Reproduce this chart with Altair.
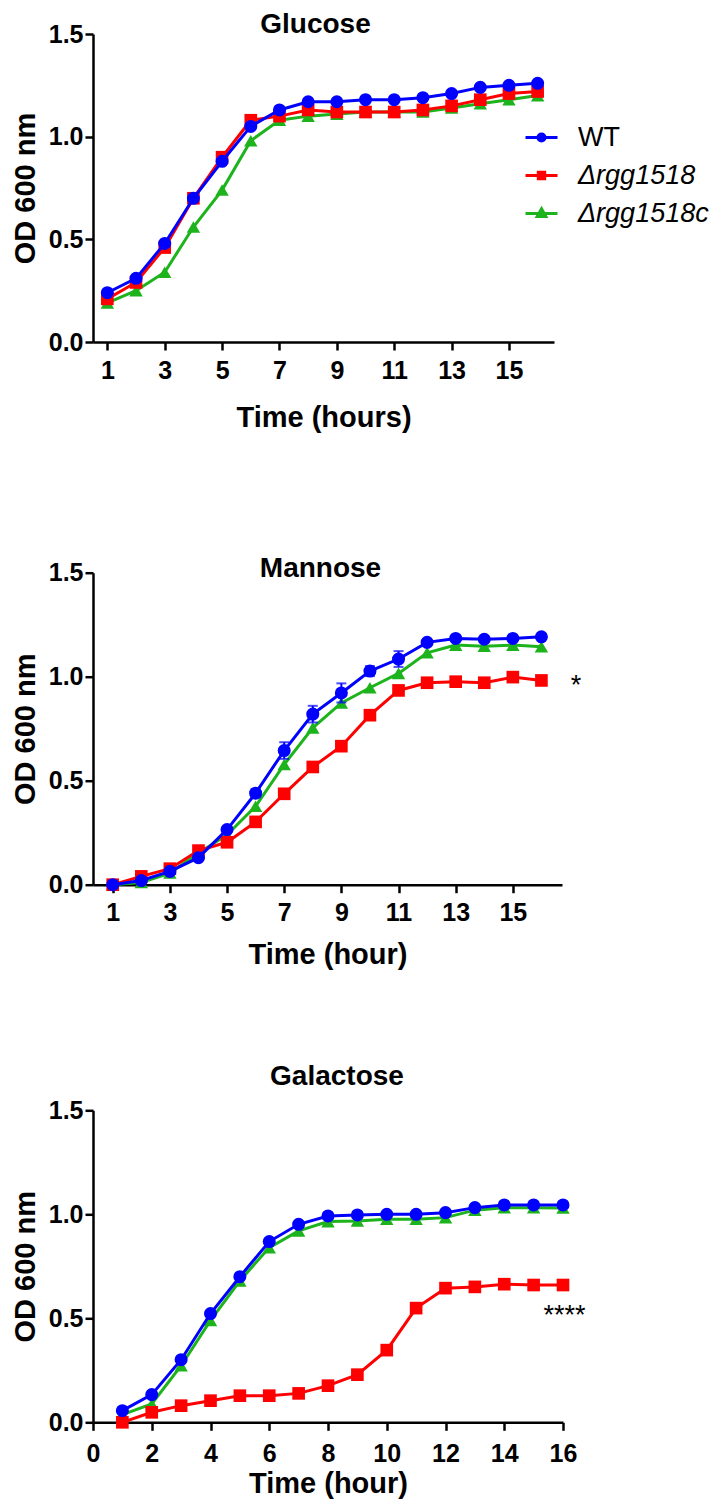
import altair as alt
import pandas as pd

# ---------------- data ----------------
hours = list(range(1, 17))
strains = ["WT", "Δrgg1518", "Δrgg1518c"]
colors = ["#0000FF", "#FF0000", "#1DB31D"]
shapes = ["circle", "square", "triangle-up"]

glucose_wt = [0.24, 0.31, 0.48, 0.70, 0.88, 1.05, 1.13, 1.17, 1.17, 1.18, 1.18, 1.19, 1.21, 1.24, 1.25, 1.26]
glucose_mut = [0.21, 0.29, 0.46, 0.70, 0.90, 1.08, 1.10, 1.13, 1.12, 1.12, 1.12, 1.13, 1.15, 1.18, 1.21, 1.22]
glucose_comp = [0.19, 0.25, 0.34, 0.56, 0.74, 0.98, 1.08, 1.10, 1.11, 1.12, 1.12, 1.12, 1.14, 1.16, 1.18, 1.20]

mannose_wt = [0.00, 0.02, 0.064, 0.13, 0.265, 0.44, 0.645, 0.82, 0.922, 1.027, 1.085, 1.165, 1.184, 1.18, 1.184, 1.192]
mannose_mut = [0.00, 0.04, 0.077, 0.164, 0.204, 0.302, 0.437, 0.566, 0.666, 0.815, 0.934, 0.971, 0.976, 0.971, 0.998, 0.982]
mannose_comp = [0.00, 0.011, 0.056, 0.152, 0.24, 0.377, 0.578, 0.754, 0.874, 0.947, 1.016, 1.115, 1.152, 1.147, 1.152, 1.144]
mannose_wt_err = [0, 0, 0, 0, 0.01, 0.02, 0.04, 0.04, 0.046, 0.024, 0.038, 0.01, 0.01, 0, 0, 0]

galactose_wt = [0.056, 0.133, 0.301, 0.523, 0.70, 0.869, 0.952, 0.992, 0.997, 1.00, 1.00, 1.008, 1.032, 1.045, 1.045, 1.045]
galactose_mut = [0.00, 0.048, 0.08, 0.104, 0.128, 0.128, 0.139, 0.176, 0.229, 0.347, 0.549, 0.645, 0.651, 0.664, 0.66, 0.66]
galactose_comp = [0.037, 0.088, 0.272, 0.49, 0.68, 0.84, 0.92, 0.965, 0.968, 0.976, 0.976, 0.984, 1.02, 1.032, 1.032, 1.03]

mannose_sig = {"t": [17.21], "od": [0.98], "label": ["*"]}
galactose_sig = {"t": [16.05], "od": [0.545], "label": ["****"]}

FONT = "Liberation Sans"


def panel_df(wt, mut, comp):
    rows = []
    for s, vals in zip(strains, [wt, mut, comp]):
        for t, v in zip(hours, vals):
            rows.append({"t": t, "od": v, "strain": s})
    return pd.DataFrame(rows)


def series_layers(df, xenc, yenc):
    layers = []
    sizes = {"circle": 170, "square": 160, "triangle-up": 180}
    for s, c, sh in reversed(list(zip(strains, colors, shapes))):
        base = alt.Chart(df).transform_filter(alt.datum.strain == s)
        layers.append(base.mark_line(color=c, strokeWidth=3).encode(x=xenc, y=yenc))
        layers.append(
            base.mark_point(filled=True, shape=sh, size=sizes[sh], color=c, opacity=1).encode(x=xenc, y=yenc)
        )
    return layers


def y_enc(title_pad=8):
    return alt.Y(
        "od:Q",
        scale=alt.Scale(domain=[0, 1.5], nice=False, zero=False),
        axis=alt.Axis(values=[0, 0.5, 1, 1.5], format=".1f", title="OD 600 nm",
                      titlePadding=title_pad, labelPadding=2),
    )


def x_enc(domain, values, title, label_pad, title_pad):
    return alt.X(
        "t:Q",
        scale=alt.Scale(domain=domain, nice=False, zero=False),
        axis=alt.Axis(values=values, format="d", title=title, labelPadding=label_pad,
                      titlePadding=title_pad, labelFlush=False),
    )


# ---------------- Glucose ----------------
df_glu = panel_df(glucose_wt, glucose_mut, glucose_comp)
x1 = x_enc([0.5, 16.57], list(range(1, 16, 2)), "Time (hours)", 8, 20)
y1 = y_enc()

legend_paths = [
    "M-1,0L1,0M0.22,0A0.22,0.22,0,1,1,-0.22,0A0.22,0.22,0,1,1,0.22,0Z",
    "M-1,0L1,0M-0.2,-0.2L0.2,-0.2L0.2,0.2L-0.2,0.2Z",
    "M-1,0L1,0M0,-0.3L0.27,0.18L-0.27,0.18Z",
]
leg = alt.Legend(
    orient="none", legendX=431, legendY=86, title=None, padding=0,
    symbolSize=1024, symbolStrokeWidth=3, labelFont=FONT, labelFontSize=27,
    labelColor="black", labelOffset=19, rowPadding=7,
    labelFontStyle=alt.ExprRef(expr="datum.label == 'WT' ? 'normal' : 'italic'"),
)
legend_layer = (
    alt.Chart(df_glu)
    .transform_filter("datum.t < 0")
    .mark_point(filled=True, opacity=1)
    .encode(
        x=x1, y=y1,
        fill=alt.Fill("strain:N", scale=alt.Scale(domain=strains, range=colors), legend=leg),
        stroke=alt.Stroke("strain:N", scale=alt.Scale(domain=strains, range=colors), legend=leg),
        shape=alt.Shape("strain:N", scale=alt.Scale(domain=strains, range=legend_paths), legend=leg),
    )
)

p1 = alt.layer(*series_layers(df_glu, x1, y1), legend_layer).properties(
    width=461, height=308, title=alt.Title("Glucose", offset=-17, dx=-8)
)

# ---------------- Mannose ----------------
df_man = panel_df(mannose_wt, mannose_mut, mannose_comp)
x2 = x_enc([0.31, 16.72], list(range(1, 16, 2)), "Time (hour)", 8, 15)
y2 = y_enc()
err_df = pd.DataFrame({
    "t": hours,
    "lo": [v - e for v, e in zip(mannose_wt, mannose_wt_err)],
    "hi": [v + e for v, e in zip(mannose_wt, mannose_wt_err)],
})
err_x = alt.X("t:Q", scale=alt.Scale(domain=[0.31, 16.72], nice=False, zero=False))
err_rule = alt.Chart(err_df).mark_rule(color=colors[0], strokeWidth=2).encode(
    x=err_x, y=alt.Y("lo:Q"), y2="hi:Q"
)
err_cap_lo = alt.Chart(err_df).mark_tick(color=colors[0], orient="horizontal", size=10, thickness=2).encode(
    x=err_x, y=alt.Y("lo:Q")
)
err_cap_hi = alt.Chart(err_df).mark_tick(color=colors[0], orient="horizontal", size=10, thickness=2).encode(
    x=err_x, y=alt.Y("hi:Q")
)
man_layers = series_layers(df_man, x2, y2)
sig_man = alt.Chart(pd.DataFrame(mannose_sig)).mark_text(
    font=FONT, fontSize=27, color="black", baseline="middle", dy=5
).encode(x=err_x, y=alt.Y("od:Q"), text="label:N")
p2 = alt.layer(*man_layers[:-2], err_rule, err_cap_lo, err_cap_hi, *man_layers[-2:], sig_man).properties(
    width=469, height=312, title=alt.Title("Mannose", offset=-22, dx=-7)
)

# ---------------- Galactose ----------------
df_gal = panel_df(galactose_wt, galactose_mut, galactose_comp)
x3 = x_enc([0, 16], list(range(0, 17, 2)), "Time (hour)", 11, 3)
y3 = y_enc()
sig_gal = alt.Chart(pd.DataFrame(galactose_sig)).mark_text(
    font=FONT, fontSize=27, color="black", baseline="middle", dy=7
).encode(x=x3, y=y3, text="label:N")
p3 = alt.layer(*series_layers(df_gal, x3, y3), sig_gal).properties(
    width=470, height=312, title=alt.Title("Galactose", offset=7, dx=9)
)

chart = (
    alt.vconcat(alt.vconcat(p1, p2, spacing=122.7), p3, spacing=93.3)
    .properties(padding={"left": 3, "top": 3, "right": 0, "bottom": 0})
    .configure_view(stroke=None)
    .configure_axis(
        domainColor="black", domainWidth=2.5, tickColor="black", tickWidth=2.5, tickSize=8,
        grid=False, labelFont=FONT, labelFontSize=25, labelFontWeight="bold", labelColor="black",
        titleFont=FONT, titleFontSize=29, titleFontWeight="bold", titleColor="black",
    )
    .configure_title(font=FONT, fontSize=28, fontWeight="bold", color="black", anchor="middle", frame="group")
)

chart.save("out.html", embed_options={"renderer": "svg", "actions": False})
